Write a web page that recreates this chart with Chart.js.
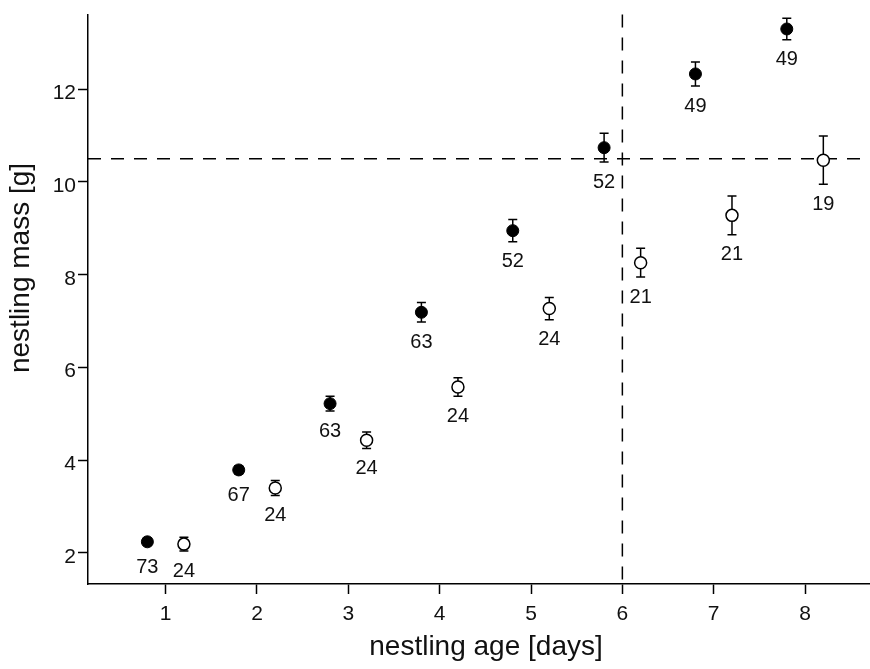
<!DOCTYPE html>
<html>
<head>
<meta charset="utf-8">
<script src="https://cdn.jsdelivr.net/npm/chart.js@4.4.1/dist/chart.umd.min.js"></script>
<style>
  html, body { margin: 0; padding: 0; background: #fff; }
</style>
</head>
<body>
<canvas id="chart" width="870" height="669"></canvas>
<script>
// tick labels
const xTicks = [1, 2, 3, 4, 5, 6, 7, 8];
const yTicks = [2, 4, 6, 8, 10, 12];

// filled circles
const filledAge = [0.8, 1.8, 2.8, 3.8, 4.8, 5.8, 6.8, 7.8];
const filledMass = [2.24, 3.79, 5.22, 7.19, 8.95, 10.74, 12.33, 13.30];
const filledErr = [0.08, 0.09, 0.16, 0.21, 0.24, 0.31, 0.26, 0.23];
const filledN = [73, 67, 63, 63, 52, 52, 49, 49];

// open circles
const openAge = [1.2, 2.2, 3.2, 4.2, 5.2, 6.2, 7.2, 8.2];
const openMass = [2.19, 3.40, 4.43, 5.58, 7.27, 8.26, 9.28, 10.47];
const openErr = [0.15, 0.16, 0.18, 0.20, 0.24, 0.31, 0.42, 0.52];
const openN = [24, 24, 24, 24, 24, 21, 21, 19];

// reference lines
const cutAge = 6;
const cutMass = 10.5;

const FONT = 'Liberation Sans, Arial, sans-serif';
const INK = '#111';

const toPoints = (xs, ys) => xs.map((v, i) => ({ x: v, y: ys[i] }));

const extras = {
  id: 'extras',
  beforeDatasetsDraw(chart) {
    const { ctx, chartArea: a, scales: { x, y } } = chart;
    ctx.save();
    ctx.strokeStyle = '#000';
    ctx.lineWidth = 1.5;

    // dashed reference lines
    ctx.setLineDash([13, 10]);
    const px = x.getPixelForValue(cutAge);
    const py = y.getPixelForValue(cutMass);
    ctx.beginPath();
    ctx.moveTo(px, a.top); ctx.lineTo(px, a.bottom);
    ctx.moveTo(a.left, py); ctx.lineTo(a.right, py);
    ctx.stroke();
    ctx.setLineDash([]);

    // error bars
    chart.data.datasets.forEach(ds => {
      ds.data.forEach((p, i) => {
        const cx = x.getPixelForValue(p.x);
        const t = y.getPixelForValue(p.y + ds.err[i]);
        const b = y.getPixelForValue(p.y - ds.err[i]);
        ctx.beginPath();
        ctx.moveTo(cx, t); ctx.lineTo(cx, b);
        ctx.moveTo(cx - 4.5, t); ctx.lineTo(cx + 4.5, t);
        ctx.moveTo(cx - 4.5, b); ctx.lineTo(cx + 4.5, b);
        ctx.stroke();
      });
    });
    ctx.restore();
  },
  afterDatasetsDraw(chart) {
    const { ctx, scales: { x, y } } = chart;
    ctx.save();
    ctx.fillStyle = INK;
    ctx.font = '20px ' + FONT;
    ctx.textAlign = 'center';
    ctx.textBaseline = 'middle';
    chart.data.datasets.forEach(ds => {
      ds.data.forEach((p, i) => {
        const cx = x.getPixelForValue(p.x);
        const b = Math.max(y.getPixelForValue(p.y - ds.err[i]), y.getPixelForValue(p.y) + 6);
        ctx.fillText(String(ds.n[i]), cx, b + 20);
      });
    });

    // axis titles
    ctx.font = '28px ' + FONT;
    ctx.textBaseline = 'alphabetic';
    ctx.fillText('nestling age [days]', 486, 655);
    ctx.translate(29, 268);
    ctx.rotate(-Math.PI / 2);
    ctx.fillText('nestling mass [g]', 0, 0);
    ctx.restore();
  }
};

new Chart(document.getElementById('chart').getContext('2d'), {
  type: 'scatter',
  data: {
    datasets: [
      {
        data: toPoints(filledAge, filledMass),
        err: filledErr,
        n: filledN,
        pointRadius: 6,
        pointBackgroundColor: '#000',
        pointBorderColor: '#000',
        pointBorderWidth: 1,
        clip: false
      },
      {
        data: toPoints(openAge, openMass),
        err: openErr,
        n: openN,
        pointRadius: 6,
        pointBackgroundColor: '#fff',
        pointBorderColor: '#000',
        pointBorderWidth: 1.5,
        clip: false
      }
    ]
  },
  options: {
    responsive: false,
    animation: false,
    layout: { autoPadding: false, padding: { top: 13, right: 1, left: 0, bottom: 0 } },
    plugins: {
      legend: { display: false },
      tooltip: { enabled: false }
    },
    scales: {
      x: {
        type: 'linear',
        min: 0.15,
        max: 8.7,
        afterBuildTicks: s => { s.ticks = xTicks.map(v => ({ value: v })); },
        afterFit: s => { s.height = 85; },
        grid: { drawOnChartArea: false, drawTicks: true, tickLength: 10, tickWidth: 1.5, tickColor: '#000' },
        border: { display: true, color: '#000', width: 1.5 },
        ticks: { autoSkip: false, maxRotation: 0, padding: 8, color: INK, font: { family: FONT, size: 21 } }
      },
      y: {
        type: 'linear',
        min: 1.33,
        max: 13.61,
        afterBuildTicks: s => { s.ticks = yTicks.map(v => ({ value: v })); },
        afterFit: s => { s.width = 88; },
        grid: { drawOnChartArea: false, drawTicks: true, tickLength: 10, tickWidth: 1.5, tickColor: '#000' },
        border: { display: true, color: '#000', width: 1.5 },
        ticks: { autoSkip: false, padding: 2, labelOffset: 4, color: INK, font: { family: FONT, size: 21 } }
      }
    }
  },
  plugins: [extras]
});
</script>
</body>
</html>
